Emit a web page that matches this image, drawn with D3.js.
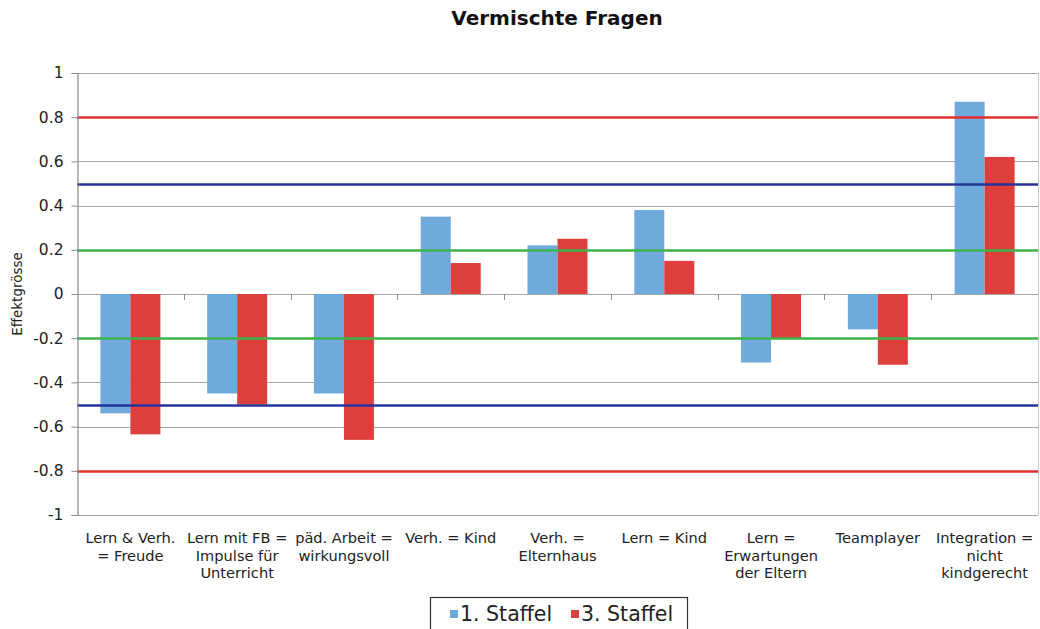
<!DOCTYPE html>
<html>
<head>
<meta charset="utf-8">
<script src="https://cdn.jsdelivr.net/npm/d3@7"></script>
<style>
  html, body { margin: 0; padding: 0; background: #fff; }
  svg { display: block; font-family: "DejaVu Sans", Verdana, sans-serif; }
</style>
</head>
<body>
<svg id="chart" width="1040" height="629"></svg>
<script>
// Category labels (line breaks marked with \n)
const categories = [
  "Lern & Verh.\n= Freude",
  "Lern mit FB =\nImpulse für\nUnterricht",
  "päd. Arbeit =\nwirkungsvoll",
  "Verh. = Kind",
  "Verh. =\nElternhaus",
  "Lern = Kind",
  "Lern =\nErwartungen\nder Eltern",
  "Teamplayer",
  "Integration =\nnicht\nkindgerecht"
];
const seriesNames = ["1. Staffel", "3. Staffel"];
const staffel1 = [-0.54, -0.45, -0.45, 0.35, 0.22, 0.38, -0.31, -0.16, 0.87];
const staffel3 = [-0.635, -0.50, -0.66, 0.14, 0.25, 0.15, -0.20, -0.32, 0.62];
const yTicks = [-1, -0.8, -0.6, -0.4, -0.2, 0, 0.2, 0.4, 0.6, 0.8, 1];
// Effect-size benchmark levels: small, medium, large
const benchmarks = [0.2, -0.2, 0.5, -0.5, 0.8, -0.8];

const svg = d3.select("#chart");
const plotLeft = 77, plotRight = 1038, plotTop = 73, plotBottom = 515;

const seriesColor = { "1. Staffel": "#70a9dc", "3. Staffel": "#dd3f3c" };
const benchColor = v => Math.abs(v) === 0.8 ? "#e3302f" : Math.abs(v) === 0.5 ? "#27339a" : "#3db54b";

const y = d3.scaleLinear().domain([-1, 1]).range([plotBottom, plotTop]);
const x = d3.scaleBand().domain(categories).range([plotLeft, plotRight]).paddingInner(0).paddingOuter(0);
const xs = d3.scaleBand().domain(seriesNames).range([0, x.bandwidth()]).paddingInner(0).paddingOuter(0.78);

// Title
svg.append("text")
  .attr("x", 557).attr("y", 25)
  .attr("text-anchor", "middle")
  .attr("font-size", 20).attr("font-weight", "bold")
  .attr("fill", "#111")
  .text("Vermischte Fragen");

// Horizontal gridlines
svg.append("g").selectAll("line").data(yTicks).join("line")
  .attr("x1", plotLeft).attr("x2", plotRight)
  .attr("y1", d => Math.round(y(d)) + 0.5).attr("y2", d => Math.round(y(d)) + 0.5)
  .attr("stroke", "#a6a6a6").attr("stroke-width", 1.2);

// Right border of plot area
svg.append("line")
  .attr("x1", plotRight + 0.5).attr("x2", plotRight + 0.5)
  .attr("y1", plotTop).attr("y2", plotBottom)
  .attr("stroke", "#c8c8c8");

// Bars
const rows = categories.map((c, i) => ({ cat: c, vals: [
  { s: seriesNames[0], v: staffel1[i] },
  { s: seriesNames[1], v: staffel3[i] }
]}));

svg.append("g").selectAll("g").data(rows).join("g")
  .attr("transform", d => `translate(${x(d.cat)},0)`)
  .selectAll("rect").data(d => d.vals).join("rect")
  .attr("x", d => xs(d.s))
  .attr("width", xs.bandwidth())
  .attr("y", d => y(Math.max(0, d.v)))
  .attr("height", d => Math.abs(y(d.v) - y(0)))
  .attr("fill", d => seriesColor[d.s]);

// Category axis at zero with tick marks between categories
const catBounds = categories.slice(1).map(c => x(c));
svg.append("g").selectAll("line").data(catBounds).join("line")
  .attr("x1", d => Math.round(d) + 0.5).attr("x2", d => Math.round(d) + 0.5)
  .attr("y1", Math.round(y(0))).attr("y2", Math.round(y(0)) + 6)
  .attr("stroke", "#8a8a8a");

// Benchmark lines
svg.append("g").selectAll("line").data(benchmarks).join("line")
  .attr("x1", plotLeft).attr("x2", plotRight)
  .attr("y1", d => Math.round(y(d)) + 0.5).attr("y2", d => Math.round(y(d)) + 0.5)
  .attr("stroke", d => benchColor(d)).attr("stroke-width", 2.4);

// Y axis
const yAxis = d3.axisLeft(y).tickValues(yTicks).tickSize(6).tickPadding(8)
  .tickFormat(d => d === 0 ? "0" : String(+d.toFixed(1)));
const gy = svg.append("g").attr("transform", `translate(${plotLeft + 0.5},0)`).call(yAxis);
gy.select(".domain").attr("stroke", "#8a8a8a").attr("stroke-width", 1.2);
gy.selectAll(".tick line").attr("stroke", "#8a8a8a");
gy.selectAll(".tick text").attr("font-size", 15.5).attr("fill", "#222")
  .attr("font-family", "DejaVu Sans, Verdana, sans-serif");

// Y axis title
svg.append("text")
  .attr("transform", `translate(22,${y(0)}) rotate(-90)`)
  .attr("text-anchor", "middle")
  .attr("font-size", 13.5).attr("fill", "#222")
  .text("Effektgrösse");

// Category labels below the plot
const lab = svg.append("g").selectAll("text").data(categories).join("text")
  .attr("x", d => x(d) + x.bandwidth() / 2)
  .attr("y", 543)
  .attr("text-anchor", "middle")
  .attr("font-size", 14.6).attr("fill", "#222");
lab.selectAll("tspan").data(d => d.split("\n")).join("tspan")
  .attr("x", function() { return d3.select(this.parentNode).attr("x"); })
  .attr("dy", (d, i) => i === 0 ? 0 : 17.5)
  .text(d => d);

// Legend
const lg = svg.append("g");
lg.append("rect")
  .attr("x", 430.5).attr("y", 597.5).attr("width", 257).attr("height", 40)
  .attr("fill", "#fff").attr("stroke", "#333").attr("stroke-width", 1.2);
const legendX = [450, 571];
seriesNames.forEach((s, i) => {
  lg.append("rect")
    .attr("x", legendX[i]).attr("y", 610).attr("width", 8).attr("height", 8)
    .attr("fill", seriesColor[s]);
  lg.append("text")
    .attr("x", legendX[i] + 10).attr("y", 621)
    .attr("font-size", 20.5).attr("fill", "#222")
    .text(s);
});
</script>
</body>
</html>
